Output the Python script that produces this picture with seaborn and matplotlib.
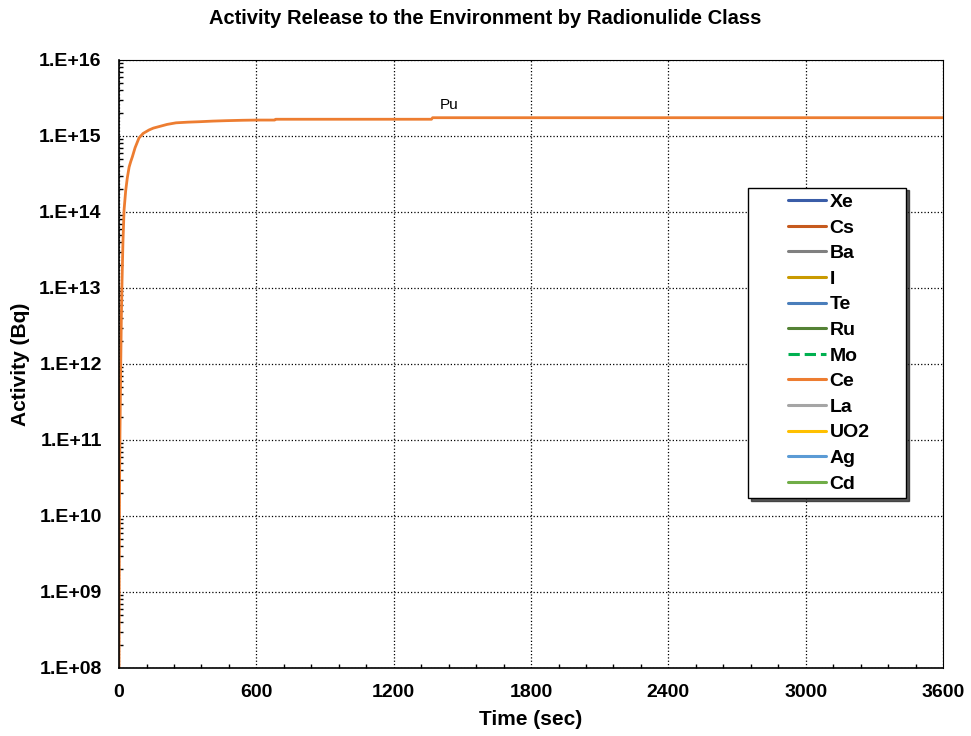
import numpy as np
import pandas as pd
import matplotlib
matplotlib.use("Agg")
import matplotlib.pyplot as plt
import seaborn as sns
from matplotlib.ticker import MultipleLocator, LogLocator, FuncFormatter, NullFormatter
from matplotlib.legend_handler import HandlerLine2D

# Pu release curve (time in s, activity in Bq)
time_s = [0, 1, 2, 4, 7, 10, 13, 17, 22, 29, 36, 44, 51, 58, 70, 87, 105,
          131, 150, 175, 210, 249, 300, 350, 410, 467, 540, 600, 680, 684,
          1000, 1365, 1370, 2400, 3600]
pu_bq = [1e8, 3e9, 2e10, 1.2e11, 8e11, 4e12, 1.2e13, 4e13, 1.07e14, 1.9e14,
         2.8e14, 3.9e14, 4.6e14, 5.3e14, 7e14, 9.4e14, 1.08e15, 1.2e15,
         1.27e15, 1.33e15, 1.42e15, 1.49e15, 1.52e15, 1.54e15, 1.57e15,
         1.59e15, 1.61e15, 1.62e15, 1.62e15, 1.66e15, 1.66e15, 1.66e15,
         1.74e15, 1.74e15, 1.74e15]

# other classes release nothing (zero activity, not visible on log axis)
classes = ["Xe", "Cs", "Ba", "I", "Te", "Ru", "Mo", "Ce", "La", "UO2", "Ag", "Cd"]
class_colors = ["#3A5DA8", "#C65A1E", "#808080", "#C99A00", "#4A7EBB", "#548235",
                "#00B050", "#ED7D31", "#A5A5A5", "#FFC000", "#5B9BD5", "#70AD47"]
class_bq = [0.0] * len(time_s)


class RightLine(HandlerLine2D):
    # draw the legend line only in the right part of the handle box
    def get_xdata(self, legend, xdescent, ydescent, width, height, fontsize):
        xd = np.array([-xdescent + width * 0.47, -xdescent + width])
        return xd, np.array([-xdescent + width * 0.72])


sns.set_style("white")
plt.rcParams["font.family"] = ["Liberation Sans", "DejaVu Sans"]
plt.rcParams.update({"text.color": "black", "axes.labelcolor": "black",
                     "xtick.color": "black", "ytick.color": "black"})

fig = plt.figure(figsize=(9.71, 7.36), dpi=100)
ax = fig.add_axes([0.1226, 0.0924, 0.8486, 0.8261])
ax.set_yscale("log", nonpositive="mask")

for name, col in zip(classes, class_colors):
    df = pd.DataFrame({"t": time_s, "a": class_bq})
    sns.lineplot(data=df, x="t", y="a", ax=ax, color=col, lw=2.2,
                 linestyle="--" if name == "Mo" else "-", label=name,
                 estimator=None, sort=False)

pu = pd.DataFrame({"t": time_s, "a": pu_bq})
sns.lineplot(data=pu, x="t", y="a", ax=ax, color="#ED7D31", lw=2,
             estimator=None, sort=False, legend=False)
ax.text(1400, 2.05e15, "Pu", fontsize=11, ha="left", va="bottom")

ax.set_xlim(0, 3600)
ax.set_ylim(1e8, 1e16)
ax.xaxis.set_major_locator(MultipleLocator(600))
ax.xaxis.set_minor_locator(MultipleLocator(120))
ax.yaxis.set_major_locator(LogLocator(base=10, numticks=20))
ax.yaxis.set_minor_locator(LogLocator(base=10, subs=np.arange(2, 10), numticks=20))
ax.yaxis.set_major_formatter(FuncFormatter(lambda v, p: "1.E+%02d" % round(np.log10(v))))
ax.yaxis.set_minor_formatter(NullFormatter())

ax.grid(True, which="major", color="black", linestyle=":", linewidth=0.9)
for s in ax.spines.values():
    s.set_color("black")
    s.set_linewidth(1.2)
ax.spines["top"].set_linewidth(0.8)
ax.spines["right"].set_linewidth(0.8)

ax.tick_params(axis="x", which="major", direction="inout", length=7, width=1.2,
               color="black", pad=8)
ax.tick_params(axis="y", which="major", direction="out", length=4.5, width=1.2,
               color="black", pad=8)
ax.tick_params(which="minor", direction="in", length=3, width=1, color="black")
ax.tick_params(which="minor", axis="x", bottom=True)
ax.tick_params(which="minor", axis="y", left=True)
for lab in ax.get_xticklabels() + ax.get_yticklabels():
    lab.set_fontweight("bold")
    lab.set_fontsize(14)

ax.set_xlabel("Time (sec)", fontsize=15, fontweight="bold")
ax.set_ylabel("Activity (Bq)", fontsize=15, fontweight="bold")
ax.xaxis.set_label_coords(0.5, -0.069)
ax.yaxis.set_label_coords(-0.108, 0.5)
fig.text(0.5, 1 - 19 / 736, "Activity Release to the Environment by Radionulide Class",
         fontsize=14.5, fontweight="bold", ha="center", va="center")

handles, labels = ax.get_legend_handles_labels()
leg = ax.legend(handles, labels, loc="upper left",
                bbox_to_anchor=(0.763, 0.28, 0.192, 0.51), mode="expand",
                frameon=True, fancybox=False,
                shadow={"color": "#222222", "alpha": 0.75}, edgecolor="black",
                prop={"weight": "bold", "size": 14}, handlelength=3.75,
                handletextpad=0.15, labelspacing=0.41, borderpad=0.3,
                borderaxespad=0,
                handler_map={h: RightLine() for h in handles})
leg.get_frame().set_linewidth(1.0)

fig.savefig("out.png", dpi=100)
plt.close(fig)
